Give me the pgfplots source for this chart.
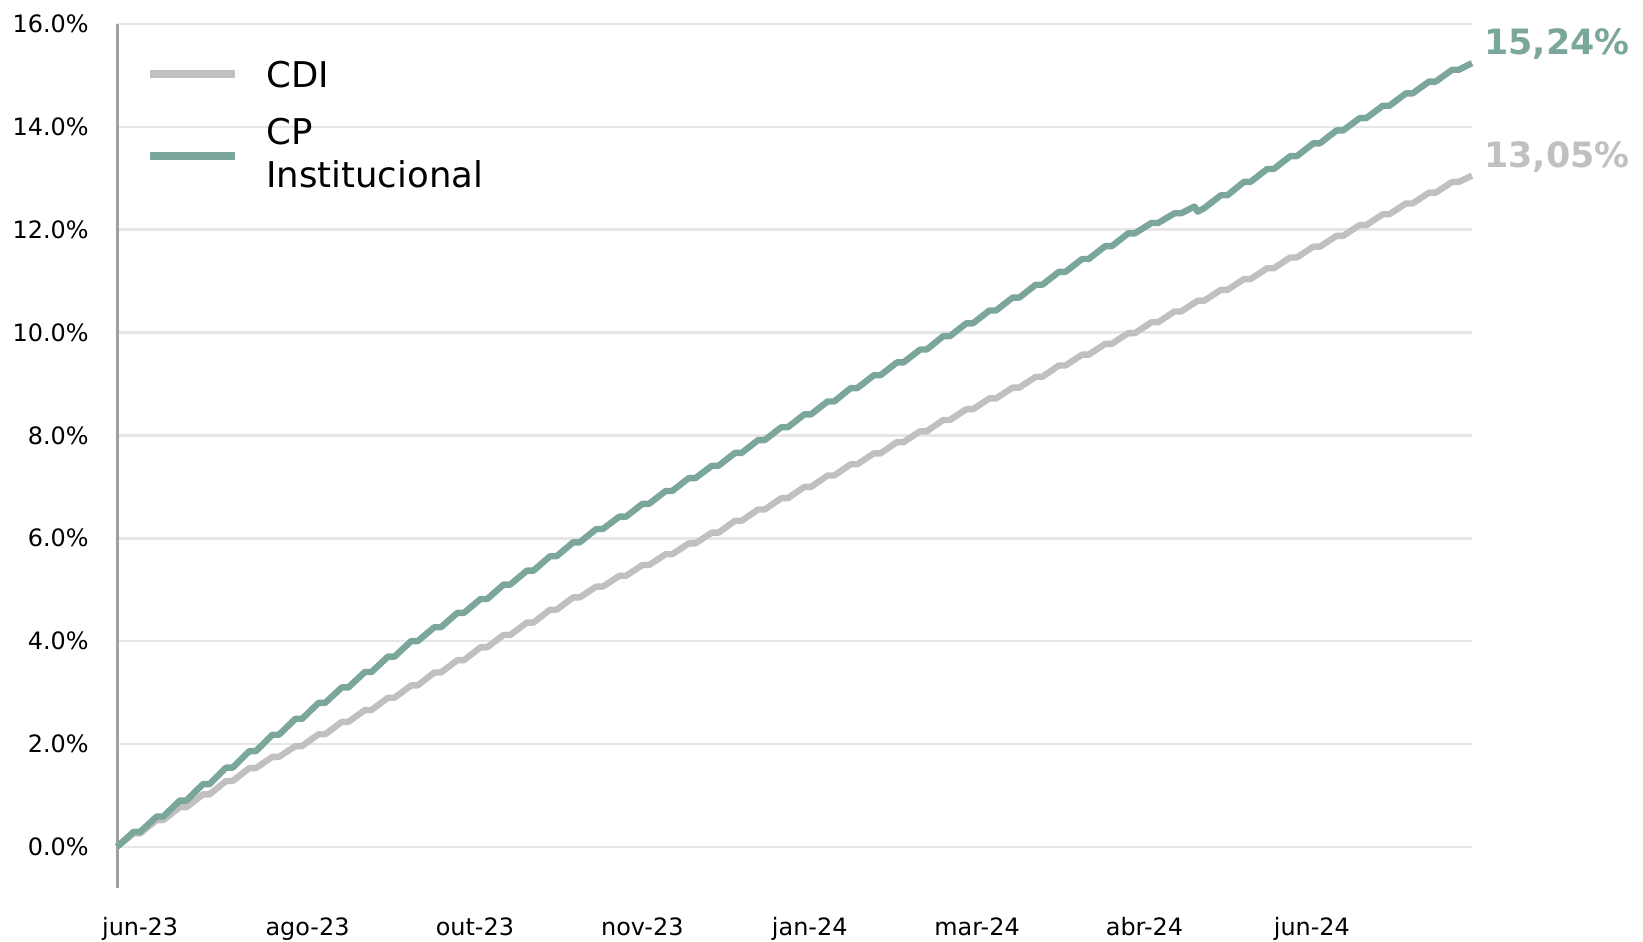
\documentclass[border=0pt]{standalone}
\usepackage{pgfplots}
\pgfplotsset{compat=1.18}
\usepackage{pgfplotstable}
\usepackage{fontspec}
\setmainfont{DejaVu Sans}

\definecolor{cpgreen}{HTML}{7AA69B}
\definecolor{cdigray}{HTML}{C0C0C0}
\definecolor{gridgray}{HTML}{E6E6E6}
\definecolor{axisgray}{HTML}{A0A0A0}

% cumulative return (%), x = days since start
\pgfplotstableread{
d v
0 0
5 0.26
7 0.26
12 0.52
14 0.52
19 0.77
21 0.77
26 1.02
28 1.02
33 1.28
35 1.28
40 1.53
42 1.53
47 1.75
49 1.75
54 1.96
56 1.96
61 2.19
63 2.19
68 2.43
70 2.43
75 2.66
77 2.66
82 2.90
84 2.90
89 3.14
91 3.14
96 3.39
98 3.39
103 3.63
105 3.63
110 3.88
112 3.88
117 4.12
119 4.12
124 4.36
126 4.36
131 4.61
133 4.61
138 4.85
140 4.85
145 5.06
147 5.06
152 5.27
154 5.27
159 5.48
161 5.48
166 5.69
168 5.69
173 5.90
175 5.90
180 6.11
182 6.11
187 6.34
189 6.34
194 6.56
196 6.56
201 6.78
203 6.78
208 7.00
210 7.00
215 7.22
217 7.22
222 7.44
224 7.44
229 7.65
231 7.65
236 7.87
238 7.87
243 8.08
245 8.08
250 8.30
252 8.30
257 8.51
259 8.51
264 8.72
266 8.72
271 8.93
273 8.93
278 9.14
280 9.14
285 9.36
287 9.36
292 9.57
294 9.57
299 9.78
301 9.78
306 9.99
308 9.99
313 10.20
315 10.20
320 10.41
322 10.41
327 10.62
329 10.62
334 10.83
336 10.83
341 11.04
343 11.04
348 11.25
350 11.25
355 11.46
357 11.46
362 11.67
364 11.67
369 11.88
371 11.88
376 12.09
378 12.09
383 12.30
385 12.30
390 12.51
392 12.51
397 12.72
399 12.72
404 12.93
406 12.93
410 13.05
}\cditable

\pgfplotstableread{
d v
0 0
5 0.29
7 0.29
12 0.59
14 0.59
19 0.90
21 0.90
26 1.22
28 1.22
33 1.54
35 1.54
40 1.86
42 1.86
47 2.18
49 2.18
54 2.49
56 2.49
61 2.80
63 2.80
68 3.10
70 3.10
75 3.40
77 3.40
82 3.70
84 3.70
89 4.00
91 4.00
96 4.27
98 4.27
103 4.55
105 4.55
110 4.82
112 4.82
117 5.10
119 5.10
124 5.37
126 5.37
131 5.65
133 5.65
138 5.92
140 5.92
145 6.18
147 6.18
152 6.42
154 6.42
159 6.67
161 6.67
166 6.92
168 6.92
173 7.17
175 7.17
180 7.41
182 7.41
187 7.66
189 7.66
194 7.91
196 7.91
201 8.16
203 8.16
208 8.41
210 8.41
215 8.66
217 8.66
222 8.92
224 8.92
229 9.17
231 9.17
236 9.42
238 9.42
243 9.67
245 9.67
250 9.93
252 9.93
257 10.18
259 10.18
264 10.43
266 10.43
271 10.68
273 10.68
278 10.93
280 10.93
285 11.18
287 11.18
292 11.43
294 11.43
299 11.68
301 11.68
306 11.93
308 11.93
313 12.13
315 12.13
320 12.32
322 12.32
326 12.45
327 12.35
329 12.42
334 12.67
336 12.67
341 12.93
343 12.93
348 13.18
350 13.18
355 13.43
357 13.43
362 13.68
364 13.68
369 13.93
371 13.93
376 14.17
378 14.17
383 14.41
385 14.41
390 14.65
392 14.65
397 14.88
399 14.88
404 15.11
406 15.11
410 15.24
}\cptable

\begin{document}
\begin{tikzpicture}
\useasboundingbox (0,0) rectangle (821.5bp,471bp);
\begin{axis}[
    at={(58.5bp,27bp)}, anchor=south west,
    scale only axis, width=677.5bp, height=432bp,
    xmin=0, xmax=410, ymin=-0.8, ymax=16,
    axis lines=left, axis line style={-},
    x axis line style={draw=none},
    y axis line style={draw=axisgray, line width=1.5bp},
    ytick={0,2,...,16},
    xtick={7,57.65,108.3,158.95,209.6,260.25,310.9,361.55},
    xticklabels={jun-23,ago-23,out-23,nov-23,jan-24,mar-24,abr-24,jun-24},
    major tick length=0pt,
    ymajorgrids, grid style={draw=gridgray, line width=1.3bp},
    /pgf/number format/assume math mode=true,
    yticklabel={\pgfmathprintnumber[fixed,fixed zerofill,precision=1]{\tick}\%},
    yticklabel style={font=\fontsize{12}{14}\selectfont, anchor=east, inner sep=0pt, xshift=-14bp},
    xticklabel style={font=\fontsize{12}{14}\selectfont, anchor=base, inner sep=0pt, yshift=-23.5bp},
    clip=false,
]
\addplot[cdigray, line width=3.2bp, line join=round] table[x=d, y=v] {\cditable};
\addplot[cpgreen, line width=3.2bp, line join=round] table[x=d, y=v] {\cptable};
\end{axis}

% legend
\draw[cdigray, line width=4bp] (75bp,434bp) -- (117.5bp,434bp);
\draw[cpgreen, line width=4bp] (75bp,393bp) -- (117.5bp,393bp);
\node[anchor=base west, inner sep=0pt, font=\fontsize{17.8}{21.5}\selectfont] at (133bp,427bp) {CDI};
\node[anchor=base west, inner sep=0pt, font=\fontsize{17.8}{21.5}\selectfont] at (133bp,398.5bp) {CP};
\node[anchor=base west, inner sep=0pt, font=\fontsize{17.8}{21.5}\selectfont] at (133bp,377bp) {Institucional};

% end values
\node[anchor=base west, inner sep=0pt, text=cpgreen, font=\fontsize{17.5}{20}\selectfont\bfseries] at (742bp,443.5bp) {15,24\%};
\node[anchor=base west, inner sep=0pt, text=cdigray, font=\fontsize{17.5}{20}\selectfont\bfseries] at (742bp,387bp) {13,05\%};
\end{tikzpicture}
\end{document}
